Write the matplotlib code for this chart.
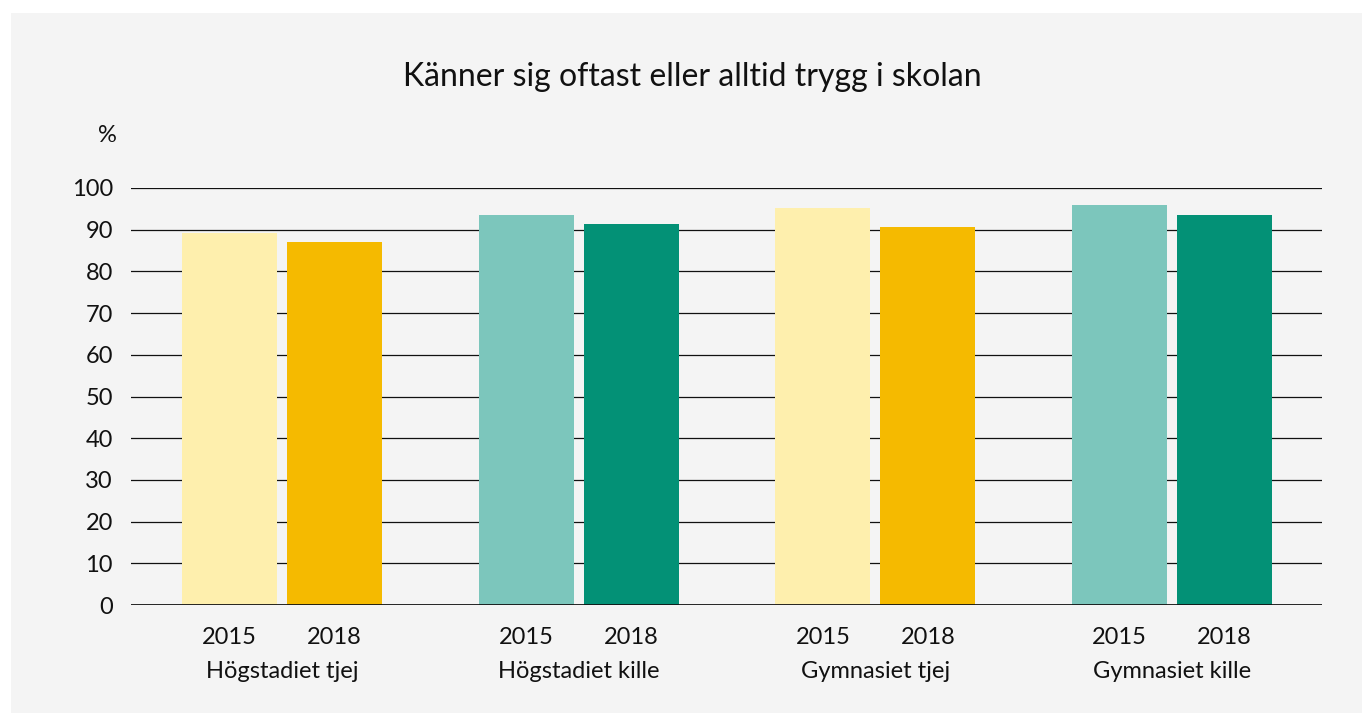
import matplotlib
matplotlib.use("Agg")
import matplotlib.pyplot as plt
from matplotlib.patches import Rectangle
from matplotlib.transforms import blended_transform_factory
import numpy as np

plt.rcParams['font.family'] = ['Lato', 'DejaVu Sans']

title = "Känner sig oftast eller alltid trygg i skolan"
groups = ["Högstadiet tjej", "Högstadiet kille", "Gymnasiet tjej", "Gymnasiet kille"]
years = ["2015", "2018"]
values_2015 = [89.3, 93.6, 95.3, 96.0]
values_2018 = [87.1, 91.4, 90.7, 93.6]
colors_2015 = ["#FEEFAD", "#7CC6BC", "#FEEFAD", "#7CC6BC"]
colors_2018 = ["#F5BA00", "#039176", "#F5BA00", "#039176"]
yticks = [0, 10, 20, 30, 40, 50, 60, 70, 80, 90, 100]

W, H = 1362, 713
S = 296.7  # pixels per group
fig = plt.figure(figsize=(W / 100, H / 100), dpi=100)
fig.patch.set_facecolor("white")
fig.patches.append(Rectangle((11 / W, 0), 1 - 11 / W, 1 - 13 / H,
                             transform=fig.transFigure, facecolor="#F4F4F4",
                             edgecolor="none", zorder=-10))

ax = fig.add_axes([131 / W, 108 / H, (1322 - 131) / W, (605 - 188) / H])
ax.set_facecolor("none")
ax.set_zorder(5)

x = np.arange(len(groups))
off = 52.5 / S
bw = 95 / S
ax.bar(x - off, values_2015, width=bw, color=colors_2015, zorder=3)
ax.bar(x + off, values_2018, width=bw, color=colors_2018, zorder=3)

ax.set_xlim((131 - 282) / S, (1322 - 282) / S)
ax.set_ylim(0, 100)
ax.set_yticks(yticks)
ax.set_yticklabels([str(v) for v in yticks])
for y in yticks[1:]:
    ax.axhline(y, color="#111111", lw=0.9, zorder=1)
ax.axhline(0, color="#111111", lw=2.0, zorder=4)

for s in ax.spines.values():
    s.set_visible(False)

ax.tick_params(axis="y", length=0, pad=13, labelsize=17, labelcolor="#111111")
xt = np.concatenate([x - off, x + off])
xl = [years[0]] * len(groups) + [years[1]] * len(groups)
ax.set_xticks(xt)
ax.set_xticklabels(xl)
ax.tick_params(axis="x", length=0, pad=16, labelsize=17, labelcolor="#111111")

trans = blended_transform_factory(ax.transData, fig.transFigure)
for i, g in enumerate(groups):
    ax.text(i, (H - 672) / H, g, transform=trans, ha="center", va="center",
            fontsize=17, color="#111111")

fig.text(692 / W, (H - 77) / H, title, ha="center", va="center",
         fontsize=23, color="#111111")
fig.text(117 / W, (H - 135) / H, "%", ha="right", va="center",
         fontsize=17, color="#111111")

fig.savefig("out.png", dpi=100, facecolor=fig.get_facecolor())
